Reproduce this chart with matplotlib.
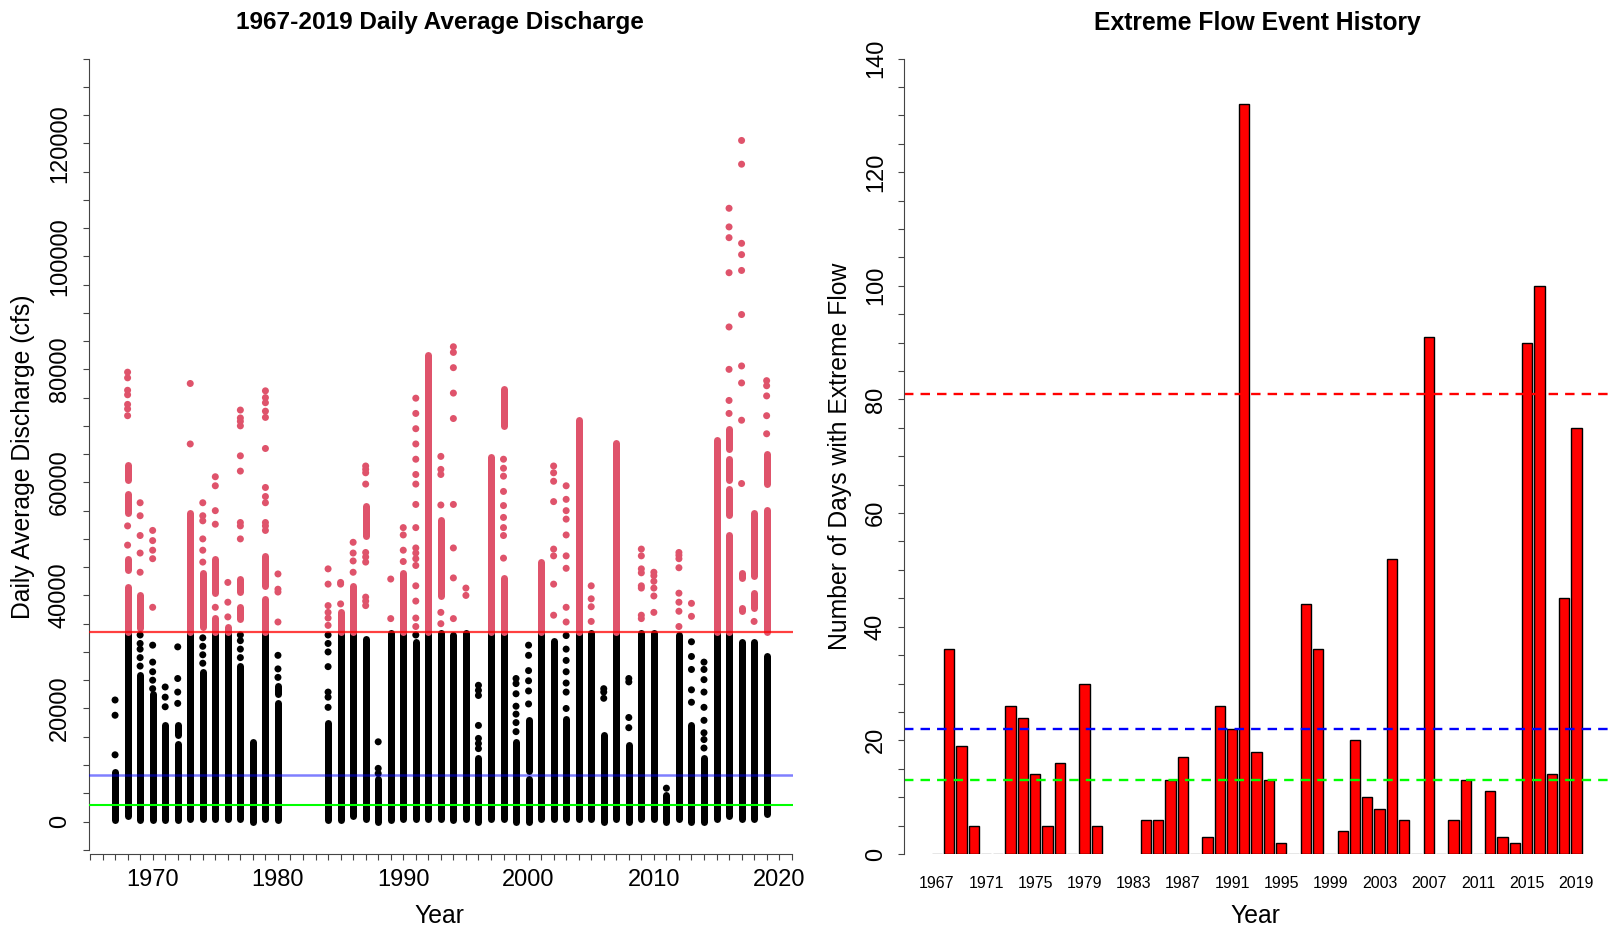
import numpy as np
import matplotlib.pyplot as plt
from matplotlib.collections import LineCollection

# reference flows (cfs) on the discharge plot
high_flow = 33500
mid_flow = 8300
low_flow = 3000

# dense runs of daily discharge: (year, low, high) in cfs
runs = [
    (1967, 200, 8800),
    (1968, 1000, 41500), (1968, 44500, 46500), (1968, 54500, 58000), (1968, 60500, 63000),
    (1969, 300, 26000), (1969, 34300, 40000),
    (1970, 300, 22600),
    (1971, 200, 17000),
    (1972, 200, 13800), (1972, 15300, 17000),
    (1973, 500, 54500),
    (1974, 500, 26500), (1974, 34500, 44000),
    (1975, 500, 36000), (1975, 40500, 46500),
    (1976, 500, 34500),
    (1977, 500, 27600), (1977, 35900, 37900), (1977, 40600, 42900),
    (1978, 0, 14000),
    (1979, 500, 39400), (1979, 41700, 47000),
    (1980, 300, 21000), (1980, 22500, 24000),
    (1984, 300, 17500),
    (1985, 300, 37000),
    (1986, 1000, 41700),
    (1987, 500, 32300), (1987, 50600, 55900),
    (1988, 0, 7600),
    (1989, 300, 33400),
    (1990, 500, 44000),
    (1991, 500, 31800),
    (1992, 500, 82500),
    (1993, 500, 33400), (1993, 39900, 53400),
    (1994, 300, 33000),
    (1995, 500, 33400),
    (1996, 0, 11200),
    (1997, 500, 64500),
    (1998, 500, 43000), (1998, 70000, 76500),
    (1999, 0, 14100),
    (2000, 0, 7600), (2000, 9000, 18000),
    (2001, 500, 45900),
    (2002, 500, 32000),
    (2003, 500, 18200),
    (2004, 500, 71000),
    (2005, 500, 33400),
    (2006, 0, 15300),
    (2007, 500, 67000),
    (2008, 0, 13500),
    (2009, 500, 33400),
    (2010, 500, 33400),
    (2011, 0, 4700),
    (2012, 500, 33000),
    (2013, 0, 17000),
    (2014, 0, 11200),
    (2015, 500, 67500),
    (2016, 1000, 50700), (2016, 54300, 58800), (2016, 60500, 64100), (2016, 65900, 69500),
    (2017, 500, 31800), (2017, 37200, 37700), (2017, 43100, 44000),
    (2018, 500, 31800), (2018, 37700, 40400), (2018, 43500, 54500),
    (2019, 1300, 29200), (2019, 33600, 55200), (2019, 59700, 65000),
]

# isolated daily values: (year, cfs)
singles = [
    (1967, 11800), (1967, 18800), (1967, 21500),
    (1968, 48900), (1968, 52300), (1968, 71800), (1968, 73000), (1968, 73800), (1968, 75500),
    (1968, 76300), (1968, 78500), (1968, 79500),
    (1969, 27500), (1969, 29000), (1969, 30500), (1969, 31500), (1969, 33000), (1969, 44100),
    (1969, 47500), (1969, 50600), (1969, 54100), (1969, 56400),
    (1970, 23500), (1970, 25000), (1970, 26500), (1970, 28200), (1970, 31200), (1970, 37900),
    (1970, 46500), (1970, 48000), (1970, 49700), (1970, 51500),
    (1971, 20300), (1971, 22000), (1971, 23800),
    (1972, 20900), (1972, 22900), (1972, 25300), (1972, 30900),
    (1973, 66800), (1973, 77500),
    (1974, 28000), (1974, 29500), (1974, 31000), (1974, 32500), (1974, 45900), (1974, 48000),
    (1974, 50000), (1974, 53200), (1974, 54100), (1974, 56400),
    (1975, 37900), (1975, 52600), (1975, 55000), (1975, 59400), (1975, 61000),
    (1976, 36200), (1976, 38800), (1976, 42300),
    (1977, 29000), (1977, 30500), (1977, 32000), (1977, 33000), (1977, 50000), (1977, 52300),
    (1977, 52900), (1977, 62000), (1977, 64700), (1977, 70000), (1977, 70800), (1977, 71400),
    (1977, 72800),
    (1979, 51500), (1979, 52300), (1979, 52900), (1979, 56400), (1979, 57500), (1979, 59100),
    (1979, 66000), (1979, 71500), (1979, 72600), (1979, 74100), (1979, 75000), (1979, 76200),
    (1980, 25500), (1980, 27000), (1980, 29400), (1980, 35300), (1980, 40600), (1980, 41100),
    (1980, 43800),
    (1984, 20200), (1984, 22000), (1984, 22900), (1984, 27400), (1984, 30000), (1984, 31500),
    (1984, 33000), (1984, 34700), (1984, 36000), (1984, 37000), (1984, 38200), (1984, 42000),
    (1984, 44700),
    (1985, 38500), (1985, 42000), (1985, 42300),
    (1986, 44100), (1986, 46100), (1986, 47500), (1986, 49400),
    (1987, 38200), (1987, 39000), (1987, 39700), (1987, 45900), (1987, 46800), (1987, 47600),
    (1987, 59700), (1987, 61700), (1987, 62300), (1987, 62900),
    (1988, 8500), (1988, 9400), (1988, 14100),
    (1989, 35900), (1989, 42900),
    (1990, 46000), (1990, 48000), (1990, 50700), (1990, 52000),
    (1991, 33000), (1991, 34500), (1991, 36000), (1991, 39000), (1991, 41700), (1991, 45300),
    (1991, 46500), (1991, 47500), (1991, 48400), (1991, 52000), (1991, 56100), (1991, 59700),
    (1991, 61400), (1991, 64100), (1991, 66800), (1991, 69500), (1991, 72200), (1991, 74900),
    (1993, 35000), (1993, 37000), (1993, 56000), (1993, 61400), (1993, 62300), (1993, 64600),
    (1994, 35900), (1994, 43100), (1994, 48400), (1994, 56100), (1994, 71300), (1994, 75800),
    (1994, 80300), (1994, 83000), (1994, 84000),
    (1995, 40000), (1995, 41300),
    (1996, 12900), (1996, 13800), (1996, 14700), (1996, 17000), (1996, 22300), (1996, 23200),
    (1996, 24100),
    (1998, 46600), (1998, 50600), (1998, 52000), (1998, 53800), (1998, 55900), (1998, 58400),
    (1998, 61100), (1998, 62500), (1998, 64100),
    (1999, 15900), (1999, 17500), (1999, 19000), (1999, 20400), (1999, 22600), (1999, 24400),
    (1999, 25300),
    (2000, 20800), (2000, 23100), (2000, 24900), (2000, 26700), (2000, 29400), (2000, 31200),
    (2002, 36500), (2002, 42000), (2002, 47000), (2002, 48200), (2002, 56600), (2002, 60200),
    (2002, 61700), (2002, 62900),
    (2003, 20000), (2003, 22900), (2003, 24500), (2003, 26500), (2003, 28500), (2003, 30500),
    (2003, 32900), (2003, 35300), (2003, 37900), (2003, 44800), (2003, 47000), (2003, 50700),
    (2003, 53500), (2003, 55000), (2003, 57000), (2003, 59400),
    (2005, 35400), (2005, 38000), (2005, 39400), (2005, 41700),
    (2006, 21800), (2006, 22900), (2006, 23500),
    (2008, 16600), (2008, 18400), (2008, 24700), (2008, 25300),
    (2009, 35900), (2009, 36500), (2009, 41300), (2009, 41700), (2009, 44000), (2009, 44700),
    (2009, 47000), (2009, 48200),
    (2010, 37000), (2010, 39900), (2010, 41300), (2010, 42500), (2010, 43500), (2010, 44100),
    (2011, 5900),
    (2012, 34500), (2012, 37200), (2012, 38800), (2012, 40400), (2012, 44900), (2012, 46500),
    (2012, 47100), (2012, 47600),
    (2013, 21100), (2013, 23300), (2013, 26900), (2013, 29200), (2013, 31800), (2013, 36300),
    (2013, 38600),
    (2014, 13000), (2014, 14500), (2014, 15700), (2014, 17900), (2014, 20200), (2014, 22900),
    (2014, 25100), (2014, 26900), (2014, 28200),
    (2016, 72200), (2016, 74500), (2016, 80000), (2016, 87500), (2016, 97100), (2016, 103300),
    (2016, 105200), (2016, 108500),
    (2017, 59800), (2017, 71000), (2017, 77600), (2017, 80600), (2017, 89700), (2017, 97500),
    (2017, 100300), (2017, 102300), (2017, 116300), (2017, 120500),
    (2018, 35400),
    (2019, 68600), (2019, 71800), (2019, 75300), (2019, 77100), (2019, 78000),
]

# extreme flow days per year (no record 1981-1983)
bar_years = list(range(1967, 1981)) + list(range(1984, 2020))
bar_days = [0, 36, 19, 5, 0, 0, 26, 24, 14, 5, 16, 0, 30, 5,
            6, 6, 13, 17, 0, 3, 26, 22, 132, 18, 13, 2, 0, 44, 36, 0,
            4, 20, 10, 8, 52, 6, 0, 91, 0, 6, 13, 0, 11, 3, 2, 90, 100, 14, 45, 75]
bar_lines = [81, 22, 13]
bar_line_cols = ['red', 'blue', '#00ff00']

plt.rcParams['font.family'] = ['Liberation Sans', 'DejaVu Sans']
W, H = 1610, 930
fig = plt.figure(figsize=(W / 100, H / 100), dpi=100)

pt_red = '#DF536B'
dot = 7.0  # marker diameter in px
tick_fs = 17
lab_fs = 17.8

# ---- left: daily discharge ----
ax1 = fig.add_axes([89 / W, 1 - 854 / H, (792.7 - 89) / W, (854 - 58.5) / H])
ax1.set_xlim(1964.92, 2021.08)
ax1.set_ylim(-5750, 135000)

segs_k, segs_r = [], []
for yr, lo, hi in runs:
    if hi <= high_flow:
        segs_k.append([(yr, lo), (yr, hi)])
    elif lo >= high_flow:
        segs_r.append([(yr, lo), (yr, hi)])
    else:
        segs_k.append([(yr, lo), (yr, high_flow)])
        segs_r.append([(yr, high_flow), (yr, hi)])
lw = dot * 0.72
ax1.add_collection(LineCollection(segs_k, colors='black', linewidths=lw, capstyle='round'))
ax1.add_collection(LineCollection(segs_r, colors=pt_red, linewidths=lw, capstyle='round'))

sx = np.array([s[0] for s in singles])
sy = np.array([s[1] for s in singles])
cols = np.where(sy > high_flow, pt_red, 'black')
ax1.scatter(sx, sy, s=(dot * 0.72) ** 2, c=cols, linewidths=0, zorder=2)

ax1.axhline(high_flow, color='red', alpha=0.75, lw=1.6, zorder=3)
ax1.axhline(mid_flow, color='blue', alpha=0.5, lw=1.8, zorder=3)
ax1.axhline(low_flow, color='#00ff00', lw=1.5, zorder=3)

for s in ['top', 'right']:
    ax1.spines[s].set_visible(False)
ax1.spines['left'].set_bounds(-5000, 135000)
ax1.spines['bottom'].set_bounds(1965, 2021)
for s in ['left', 'bottom']:
    ax1.spines[s].set_color('#444444')
ax1.set_yticks(range(0, 120001, 20000))
ax1.set_yticks(range(-5000, 135001, 5000), minor=True)
ax1.set_xticks(range(1970, 2021, 10))
ax1.set_xticks(range(1965, 2022), minor=True)
ax1.tick_params(which='both', length=4, width=0.8, color='#444444', labelsize=tick_fs)
ax1.tick_params(axis='y', labelrotation=90, pad=9)
ax1.tick_params(axis='x', pad=7)
for lbl in ax1.get_yticklabels():
    lbl.set_va('center')

# ---- right: extreme flow bars ----
ax2 = fig.add_axes([903.6 / W, 1 - 854 / H, (W - 903.6) / W, (854 - 58.5) / H])
edge = ['black' if d > 0 else '#888888' for d in bar_days]
ax2.bar(bar_years, bar_days, width=0.84, color='red', edgecolor=edge, linewidth=1.0)
for v, c in zip(bar_lines, bar_line_cols):
    ax2.axhline(v, color=c, ls=(0, (4, 3)), lw=1.7)
ax2.set_xlim(1964.3, 2021.73)
ax2.set_ylim(0, 140)
for s in ['top', 'right', 'bottom']:
    ax2.spines[s].set_visible(False)
ax2.spines['left'].set_color('#444444')
ax2.set_yticks(range(0, 141, 20))
ax2.set_yticks(range(0, 141, 5), minor=True)
ax2.tick_params(axis='y', which='both', length=4, width=0.8, color='#444444',
                labelsize=tick_fs, labelrotation=90, pad=8)
for lbl in ax2.get_yticklabels():
    lbl.set_va('center')
ax2.set_xticks(range(1967, 2020, 4))
ax2.set_xticklabels([str(y) for y in range(1967, 2020, 4)],
                    family=['Liberation Sans Narrow', 'Liberation Sans'], fontsize=11.5)
ax2.tick_params(axis='x', length=0, pad=16)

# ---- texts ----
fig.text(440 / W, 1 - 23 / H, '1967-2019 Daily Average Discharge', ha='center', va='center',
         fontsize=17.6, fontweight='bold')
fig.text(1257 / W, 1 - 23 / H, 'Extreme Flow Event History', ha='center', va='center',
         fontsize=17.8, fontweight='bold')
fig.text(439 / W, 1 - 916 / H, 'Year', ha='center', va='center', fontsize=lab_fs)
fig.text(1255 / W, 1 - 916 / H, 'Year', ha='center', va='center', fontsize=lab_fs)
fig.text(23 / W, 1 - 457 / H, 'Daily Average Discharge (cfs)', ha='center', va='center',
         rotation=90, fontsize=lab_fs)
fig.text(840 / W, 1 - 456 / H, 'Number of Days with Extreme Flow', ha='center', va='center',
         rotation=90, fontsize=lab_fs)

fig.savefig('out.png', dpi=100)
